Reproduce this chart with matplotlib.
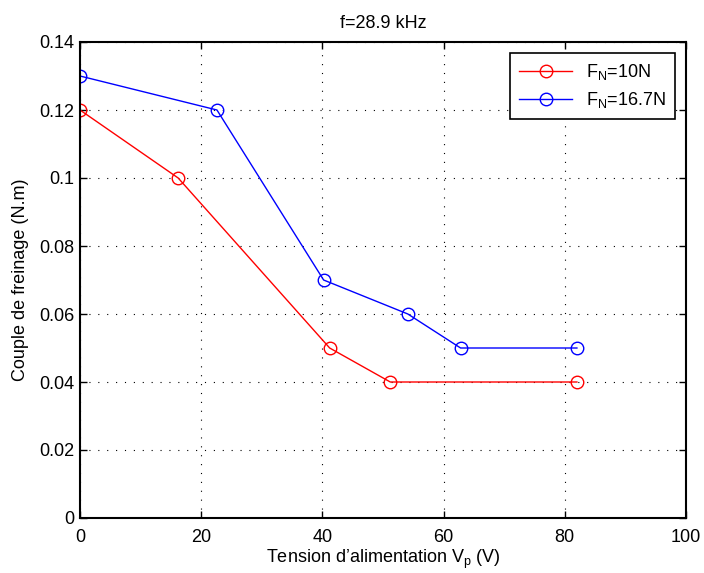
import matplotlib.pyplot as plt

plt.rcParams['font.family'] = ['Liberation Sans', 'DejaVu Sans']
plt.rcParams['mathtext.fontset'] = 'custom'
plt.rcParams['mathtext.rm'] = 'Liberation Sans'
plt.rcParams['mathtext.it'] = 'Liberation Sans'

# données
v_10 = [0, 16.2, 41.2, 51.2, 82]
c_10 = [0.12, 0.10, 0.05, 0.04, 0.04]
v_167 = [0, 22.6, 40.2, 54.1, 62.8, 82]
c_167 = [0.13, 0.12, 0.07, 0.06, 0.05, 0.05]

fig = plt.figure(figsize=(7.04, 5.73), dpi=100)
ax = fig.add_axes([80 / 704, 1 - 518 / 573, 606 / 704, 476 / 573])

ax.plot(v_10, c_10, color='red', lw=1, marker='o', ms=9, mfc='none',
        mec='red', label=r'F$_\mathregular{N}$=10N')
ax.plot(v_167, c_167, color='blue', lw=1, marker='o', ms=9, mfc='none',
        mec='blue', label=r'F$_\mathregular{N}$=16.7N')

ax.set_xlim(0, 100)
ax.set_ylim(0, 0.14)
ax.set_xticks([0, 20, 40, 60, 80, 100])
ax.set_yticks([0, 0.02, 0.04, 0.06, 0.08, 0.1, 0.12, 0.14])
ax.set_yticklabels(['0', '0.02', '0.04', '0.06', '0.08', '0.1', '0.12', '0.14'])

ax.grid(True, linestyle=(0, (1, 7)), color='black', lw=0.8)
ax.tick_params(direction='in', length=5, width=1, labelsize=13,
               top=True, right=True, pad=4)
ax.tick_params(axis='x', pad=8)
for s in ax.spines.values():
    s.set_linewidth(1.5)

ax.set_xlabel(r'Tension d’alimentation V$_\mathregular{p}$ (V)', fontsize=13, labelpad=1)
ax.set_ylabel('Couple de freinage (N.m)', fontsize=13, labelpad=7)
ax.set_title('f=28.9 kHz', fontsize=13, pad=10)

leg = ax.legend(loc='upper right', fontsize=13, fancybox=False, edgecolor='black',
                framealpha=1, borderaxespad=0.6, handlelength=2.9,
                borderpad=0.5, labelspacing=0.45)
leg.get_frame().set_linewidth(1.2)

fig.savefig('out.png', dpi=100)
